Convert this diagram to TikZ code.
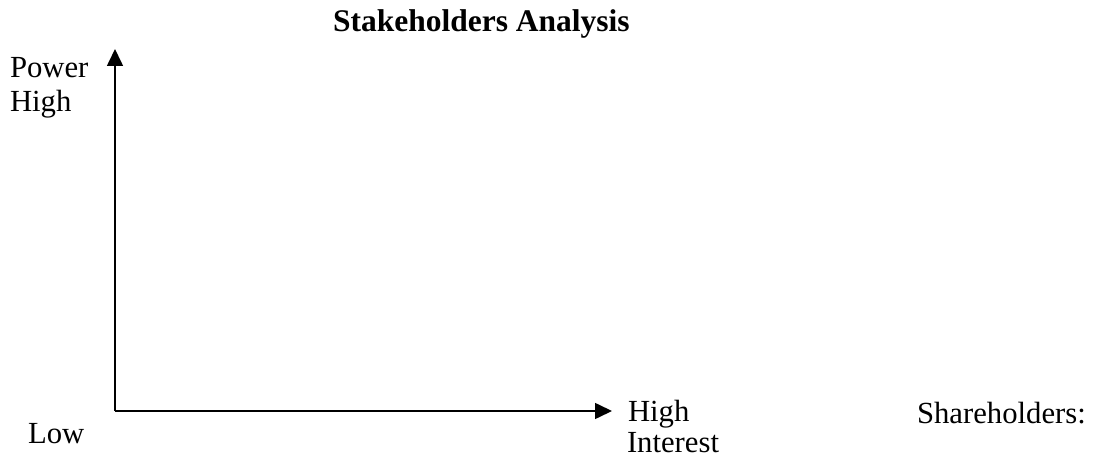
\documentclass[tikz,border=0pt]{standalone}
\usepackage{fontspec}
\setmainfont{Liberation Serif}
\usetikzlibrary{arrows.meta}
\begin{document}
\begin{tikzpicture}[x=1pt,y=-1pt,
  lbl/.style={anchor=base west,inner sep=0pt,outer sep=0pt,font=\fontsize{30.7}{35}\selectfont},
  axis/.style={line width=1.6pt,-{Triangle[length=17pt,width=16pt]}}]
\useasboundingbox (0,0) rectangle (1100,462);
\node[lbl,font=\fontsize{31.5}{35}\selectfont\bfseries] (title) at (333,32) {Stakeholders Analysis};
\node[lbl] (power) at (10,78) {Power};
\node[lbl] (phigh) at (10,112) {High};
\node[lbl] (low) at (28,443) {Low};
\node[lbl] (ihigh) at (628,421) {High};
\node[lbl] (interest) at (627,452) {Interest};
\node[lbl] (share) at (917,423) {Shareholders:};
\coordinate (origin) at (115,411);
\coordinate (ytip) at (115,49);
\coordinate (xtip) at (612,411);
\draw[axis] (origin) -- (ytip);
\draw[axis] (origin) -- (xtip);
\end{tikzpicture}
\end{document}
